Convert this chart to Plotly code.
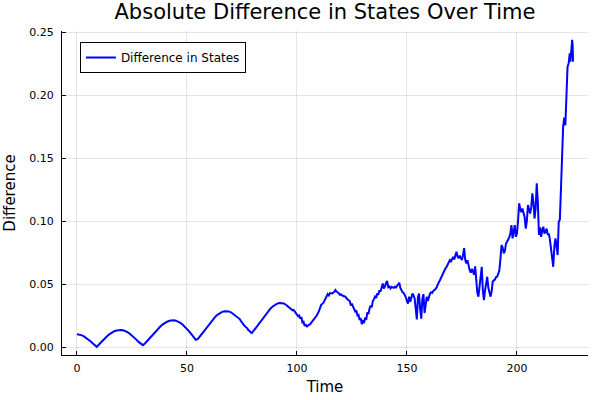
import plotly.graph_objects as go

time = [
    0, 1, 2, 3, 4, 5, 6, 7, 8, 9,
    10, 11, 12, 13, 14, 15, 16, 17, 18, 19,
    20, 21, 22, 23, 24, 25, 26, 27, 28, 29,
    30, 31, 32, 33, 34, 35, 36, 37, 38, 39,
    40, 41, 42, 43, 44, 45, 46, 47, 48, 49,
    50, 51, 52, 53, 54, 55, 56, 57, 58, 59,
    60, 61, 62, 63, 64, 65, 66, 67, 68, 69,
    70, 71, 72, 73, 73.5, 74, 74.5, 75, 75.5, 76,
    76.5, 77, 77.5, 78, 78.5, 79, 79.5, 80, 81, 82,
    83, 84, 85, 86, 87, 88, 89, 90, 91, 92,
    93, 94, 95, 96, 97, 97.5, 98, 98.5, 99, 99.5,
    100, 100.5, 101, 101.5, 102, 102.5, 103, 103.5, 104, 104.5,
    105, 106, 107, 108, 109, 110, 111, 112, 113, 113.5,
    114, 114.5, 115, 116, 117, 117.5, 118, 119, 119.5, 120,
    121, 122, 122.5, 123, 123.5, 124, 124.5, 125, 125.5, 126,
    126.5, 127, 127.5, 128, 128.5, 129, 129.5, 130, 130.5, 131,
    131.5, 132, 132.5, 133, 133.5, 134, 134.5, 135, 135.5, 136,
    136.5, 137, 137.5, 138, 138.5, 139, 139.5, 140, 140.5, 141,
    141.5, 142, 142.5, 143, 144, 144.5, 145, 145.5, 146, 146.5,
    147, 147.5, 148, 148.5, 149, 149.5, 150, 150.5, 151, 151.5,
    152, 152.5, 153, 153.5, 154, 154.5, 155, 155.5, 156, 156.5,
    157, 157.5, 158, 158.5, 159, 159.5, 160, 160.5, 161, 161.5,
    162, 162.5, 163, 163.5, 164, 164.5, 165, 165.5, 166, 166.5,
    167, 167.5, 168, 168.5, 169, 169.5, 170, 170.5, 171, 171.5,
    172, 172.5, 173, 173.5, 174, 174.5, 175, 175.5, 176, 176.5,
    177, 177.5, 178, 178.5, 179, 179.5, 180, 180.5, 181, 181.5,
    182, 182.5, 183, 183.5, 184, 184.5, 185, 185.5, 186, 186.5,
    187, 187.5, 188, 188.5, 189, 189.5, 190, 190.5, 191, 191.5,
    192, 192.5, 193, 193.5, 194, 194.5, 195, 195.5, 196, 196.5,
    197, 197.5, 198, 198.5, 199, 199.5, 200, 200.5, 201, 201.5,
    202, 202.5, 203, 203.5, 204, 204.5, 205, 205.5, 206, 206.5,
    207, 207.5, 208, 208.5, 209, 209.5, 210, 210.5, 211, 211.5,
    212, 212.5, 213, 213.5, 214, 214.5, 215, 215.5, 216, 216.5,
    217, 217.5, 218, 218.5, 219, 219.5, 220, 220.5, 221, 221.5,
    222, 222.5, 223, 223.5, 224, 224.3, 224.7, 225.1, 225.3, 225.5,
]

difference = [
    0.0102, 0.0100, 0.0095, 0.0087, 0.0076, 0.0063, 0.0048, 0.0032, 0.0016, 0.0002,
    0.0020, 0.0040, 0.0059, 0.0076, 0.0092, 0.0105, 0.0117, 0.0126, 0.0132, 0.0135,
    0.0135, 0.0133, 0.0127, 0.0118, 0.0106, 0.0092, 0.0076, 0.0059, 0.0041, 0.0024,
    0.0015, 0.0030, 0.0050, 0.0071, 0.0092, 0.0112, 0.0131, 0.0149, 0.0165, 0.0180,
    0.0192, 0.0201, 0.0208, 0.0211, 0.0212, 0.0209, 0.0202, 0.0192, 0.0179, 0.0163,
    0.0145, 0.0124, 0.0102, 0.0080, 0.0058, 0.0065, 0.0088, 0.0112, 0.0137, 0.0160,
    0.0183, 0.0205, 0.0225, 0.0243, 0.0258, 0.0270, 0.0279, 0.0284, 0.0286, 0.0283,
    0.0276, 0.0264, 0.0250, 0.0238, 0.0228, 0.0222, 0.0208, 0.0200, 0.0184, 0.0172,
    0.0165, 0.0152, 0.0146, 0.0132, 0.0128, 0.0116, 0.0112, 0.0122, 0.0145, 0.0170,
    0.0196, 0.0222, 0.0246, 0.0268, 0.0289, 0.0307, 0.0322, 0.0335, 0.0345, 0.0350,
    0.0351, 0.0346, 0.0336, 0.0322, 0.0306, 0.0298, 0.0292, 0.0295, 0.0280, 0.0262,
    0.0258, 0.0245, 0.0250, 0.0225, 0.0238, 0.0195, 0.0200, 0.0168, 0.0180, 0.0160,
    0.0172, 0.0182, 0.0205, 0.0232, 0.0250, 0.0285, 0.0335, 0.0350, 0.0385, 0.0395,
    0.0420, 0.0410, 0.0428, 0.0425, 0.0438, 0.0452, 0.0440, 0.0428, 0.0415, 0.0418,
    0.0405, 0.0400, 0.0385, 0.0378, 0.0372, 0.0365, 0.0330, 0.0345, 0.0320, 0.0300,
    0.0282, 0.0290, 0.0250, 0.0255, 0.0215, 0.0230, 0.0180, 0.0215, 0.0190, 0.0235,
    0.0215, 0.0275, 0.0262, 0.0305, 0.0330, 0.0315, 0.0365, 0.0380, 0.0400, 0.0390,
    0.0425, 0.0415, 0.0450, 0.0440, 0.0478, 0.0505, 0.0465, 0.0480, 0.0510, 0.0525,
    0.0475, 0.0480, 0.0465, 0.0478, 0.0470, 0.0480, 0.0472, 0.0485, 0.0495, 0.0510,
    0.0470, 0.0450, 0.0435, 0.0430, 0.0415, 0.0395, 0.0365, 0.0345, 0.0400, 0.0360,
    0.0390, 0.0425, 0.0410, 0.0385, 0.0300, 0.0220, 0.0400, 0.0425, 0.0300, 0.0225,
    0.0380, 0.0420, 0.0270, 0.0330, 0.0400, 0.0365, 0.0410, 0.0425, 0.0435, 0.0430,
    0.0445, 0.0450, 0.0460, 0.0475, 0.0505, 0.0515, 0.0530, 0.0550, 0.0565, 0.0580,
    0.0600, 0.0625, 0.0635, 0.0650, 0.0665, 0.0690, 0.0680, 0.0700, 0.0715, 0.0695,
    0.0735, 0.0757, 0.0720, 0.0704, 0.0725, 0.0700, 0.0690, 0.0730, 0.0785, 0.0690,
    0.0664, 0.0690, 0.0640, 0.0612, 0.0590, 0.0620, 0.0600, 0.0575, 0.0640, 0.0490,
    0.0430, 0.0400, 0.0470, 0.0560, 0.0637, 0.0450, 0.0373, 0.0450, 0.0530, 0.0558,
    0.0470, 0.0420, 0.0400, 0.0440, 0.0520, 0.0530, 0.0535, 0.0555, 0.0558, 0.0580,
    0.0610, 0.0700, 0.0810, 0.0790, 0.0744, 0.0760, 0.0820, 0.0836, 0.0850, 0.0870,
    0.0900, 0.0968, 0.0862, 0.0920, 0.0968, 0.0875, 0.0900, 0.1000, 0.1140, 0.1100,
    0.1070, 0.1100, 0.1050, 0.1030, 0.0940, 0.1000, 0.1127, 0.1080, 0.1060, 0.1110,
    0.1220, 0.1150, 0.1020, 0.1100, 0.1300, 0.1150, 0.0889, 0.0950, 0.0875, 0.0930,
    0.0955, 0.0900, 0.0920, 0.0940, 0.0890, 0.0900, 0.0850, 0.0770, 0.0700, 0.0637,
    0.0796, 0.0862, 0.0800, 0.0730, 0.0995, 0.1010, 0.1250, 0.1560, 0.1750, 0.1820,
    0.1760, 0.1990, 0.2225, 0.2250, 0.2330, 0.2265, 0.2410, 0.2437, 0.2400, 0.2265,
]

x_ticks = [0, 50, 100, 150, 200]
y_ticks = [0.00, 0.05, 0.10, 0.15, 0.20, 0.25]
y_tick_labels = ["0.00", "0.05", "0.10", "0.15", "0.20", "0.25"]

FONT = "DejaVu Sans"

fig = go.Figure()
fig.add_trace(go.Scatter(
    x=time, y=difference, mode="lines", name="Difference in States",
    line=dict(color="#0000ff", width=2),
))

axis_common = dict(
    showline=True, linecolor="black", linewidth=1, mirror=False,
    ticks="inside", ticklen=4, tickcolor="black", tickwidth=1,
    showgrid=True, gridcolor="rgba(0,0,0,0.1)", gridwidth=0.5,
    zeroline=False, tickfont=dict(family=FONT, size=11, color="black"),
    automargin=False,
)

fig.update_layout(
    width=600, height=400,
    paper_bgcolor="white", plot_bgcolor="white",
    margin=dict(l=62, r=12, t=31, b=45),
    title=dict(text="Absolute Difference in States Over Time", x=0.5, xanchor="center",
               xref="paper", y=0.97, yref="container", yanchor="middle",
               font=dict(family=FONT, size=21, color="black")),
    xaxis=dict(range=[-6.8, 232.3], tickvals=x_ticks, ticklabelstandoff=3,
               title=dict(text="Time", font=dict(family=FONT, size=15, color="black"), standoff=7),
               **axis_common),
    yaxis=dict(range=[-0.0063, 0.2508], tickvals=y_ticks, ticktext=y_tick_labels,
               ticklabelstandoff=5,
               title=dict(text="Difference", font=dict(family=FONT, size=15, color="black"), standoff=10),
               **axis_common),
    showlegend=True,
    legend=dict(x=0.034, y=0.966, xanchor="left", yanchor="top",
                bordercolor="black", borderwidth=1, bgcolor="white",
                font=dict(family=FONT, size=12, color="black")),
)

fig.write_html("out.html", config={"displayModeBar": False},
               post_script="document.body.style.margin='0';")
